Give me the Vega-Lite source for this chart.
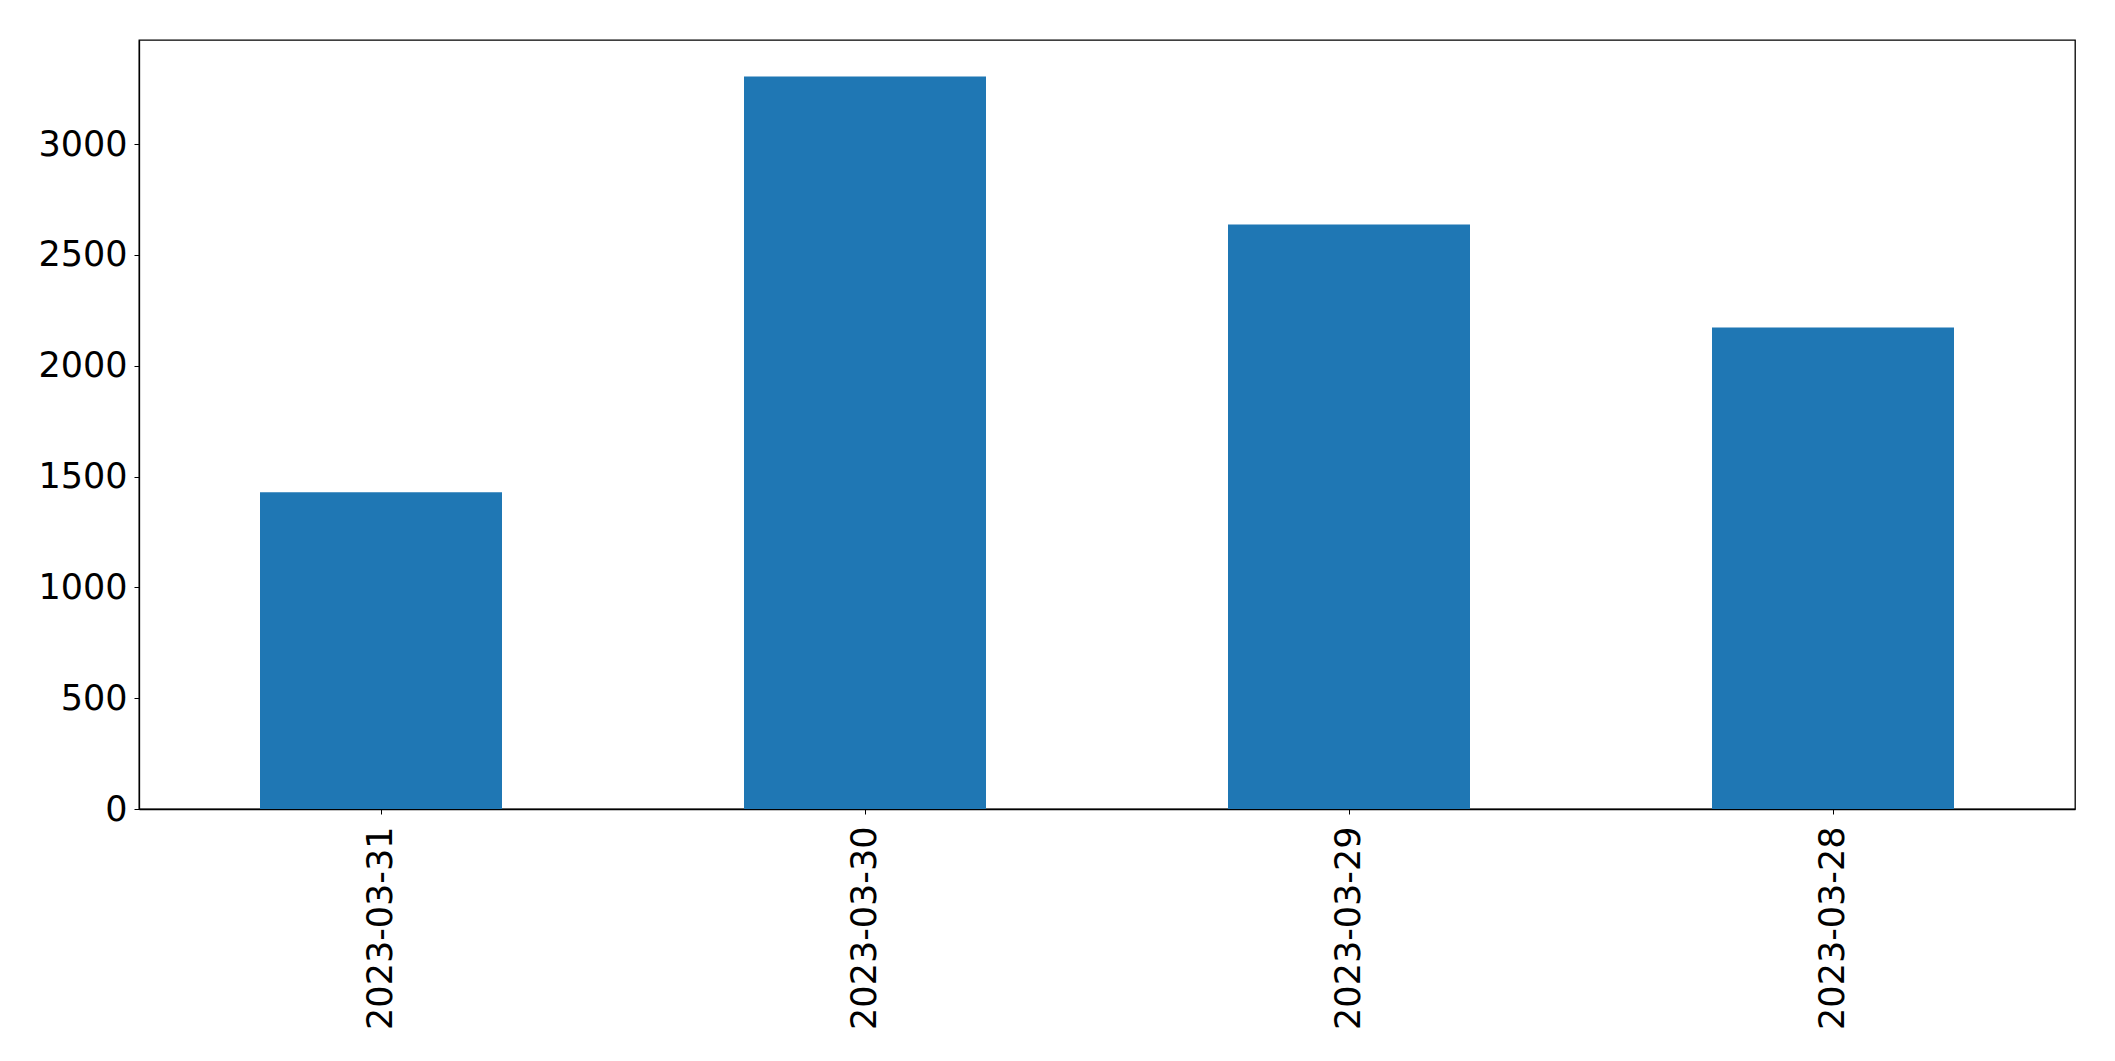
{
  "$schema": "https://vega.github.io/schema/vega-lite/v6.json",
  "width": 1936,
  "height": 769,
  "autosize": {"type": "none"},
  "padding": {"left": 139, "top": 40, "right": 40, "bottom": 252},
  "background": "white",
  "data": {
    "values": [
      {"date": "2023-03-31", "value": 1429},
      {"date": "2023-03-30", "value": 3305},
      {"date": "2023-03-29", "value": 2638},
      {"date": "2023-03-28", "value": 2173}
    ]
  },
  "mark": {"type": "bar", "color": "#1f77b4"},
  "encoding": {
    "x": {
      "field": "date",
      "type": "nominal",
      "sort": null,
      "title": null,
      "scale": {"paddingInner": 0.5, "paddingOuter": 0.25},
      "axis": {
        "labelAngle": 270,
        "labelAlign": "right",
        "labelBaseline": "middle",
        "labelFontSize": 35,
        "labelFont": "DejaVu Sans",
        "labelColor": "black",
        "labelPadding": 12,
        "labelLimit": 0,
        "tickSize": 5,
        "tickColor": "black",
        "domainColor": "black",
        "domainWidth": 1.3,
        "grid": false
      }
    },
    "y": {
      "field": "value",
      "type": "quantitative",
      "title": null,
      "scale": {"domain": [0, 3470], "nice": false, "zero": true},
      "axis": {
        "values": [0, 500, 1000, 1500, 2000, 2500, 3000],
        "format": "d",
        "labelFontSize": 35,
        "labelFont": "DejaVu Sans",
        "labelColor": "black",
        "labelPadding": 7,
        "labelLimit": 0,
        "tickSize": 5,
        "tickColor": "black",
        "domainColor": "black",
        "domainWidth": 1.3,
        "grid": false
      }
    }
  },
  "config": {
    "view": {"stroke": "black", "strokeWidth": 1.3},
    "axis": {"labelFlush": false, "labelOverlap": false}
  }
}
